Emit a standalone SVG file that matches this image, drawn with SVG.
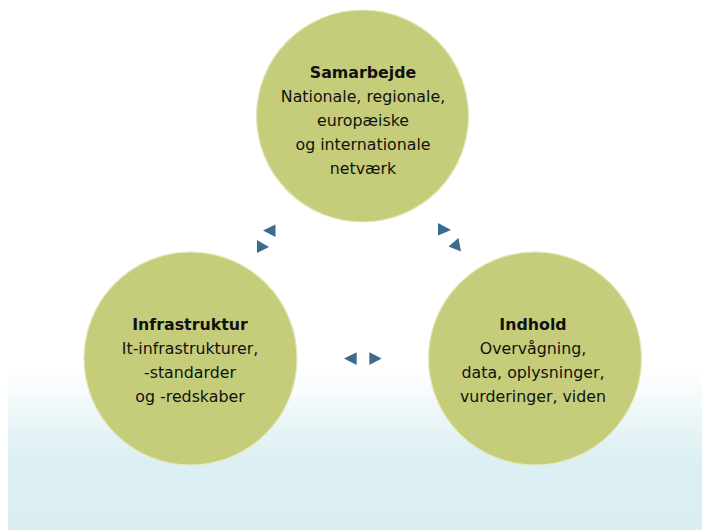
<svg xmlns="http://www.w3.org/2000/svg" width="702" height="530" viewBox="0 0 702 530">
<defs>
<linearGradient id="bg" x1="0" y1="0" x2="0" y2="1">
<stop offset="0" stop-color="#FFFFFF"/>
<stop offset="0.55" stop-color="#DCEFF2"/>
<stop offset="1" stop-color="#DAEEF1"/>
</linearGradient>
<style>
.node circle{fill:#C5CD7B;stroke:#E4E8BE;stroke-width:1.2}
text{font-family:"DejaVu Sans","Liberation Sans",sans-serif;font-size:15.8px;fill:#111;text-anchor:middle}
.t{font-weight:bold}
.arr{fill:#3B6B8E}
</style>
</defs>
<rect x="0" y="0" width="702" height="530" fill="#FFFFFF"/>
<rect x="8" y="370" width="694" height="160" fill="url(#bg)"/>
<g id="connectors">
<polygon class="arr" points="263,230.5 275.5,224.5 275.5,237"/>
<polygon class="arr" points="257,240 257,253 269,247"/>
<polygon class="arr" points="438,223 438,235.5 451,230"/>
<polygon class="arr" points="448.5,246.5 458.5,238 461,251.5"/>
<polygon class="arr" points="344,358.5 356.7,352.3 356.7,365"/>
<polygon class="arr" points="369.3,352.3 369.3,365 381.7,358.5"/>
</g>
<g id="samarbejde" class="node">
<circle cx="362.5" cy="116" r="106"/>
<text x="363" y="78" class="t">Samarbejde</text>
<text x="363" y="102">Nationale, regionale,</text>
<text x="363" y="126">europæiske</text>
<text x="363" y="150">og internationale</text>
<text x="363" y="174">netværk</text>
</g>
<g id="infrastruktur" class="node">
<circle cx="190.5" cy="358.5" r="106.5"/>
<text x="190" y="330" class="t">Infrastruktur</text>
<text x="190" y="354">It-infrastrukturer,</text>
<text x="190" y="378">-standarder</text>
<text x="190" y="402">og -redskaber</text>
</g>
<g id="indhold" class="node">
<circle cx="535" cy="358.5" r="106.5"/>
<text x="533" y="330" class="t">Indhold</text>
<text x="533" y="354">Overvågning,</text>
<text x="533" y="378">data, oplysninger,</text>
<text x="533" y="402">vurderinger, viden</text>
</g>
</svg>
